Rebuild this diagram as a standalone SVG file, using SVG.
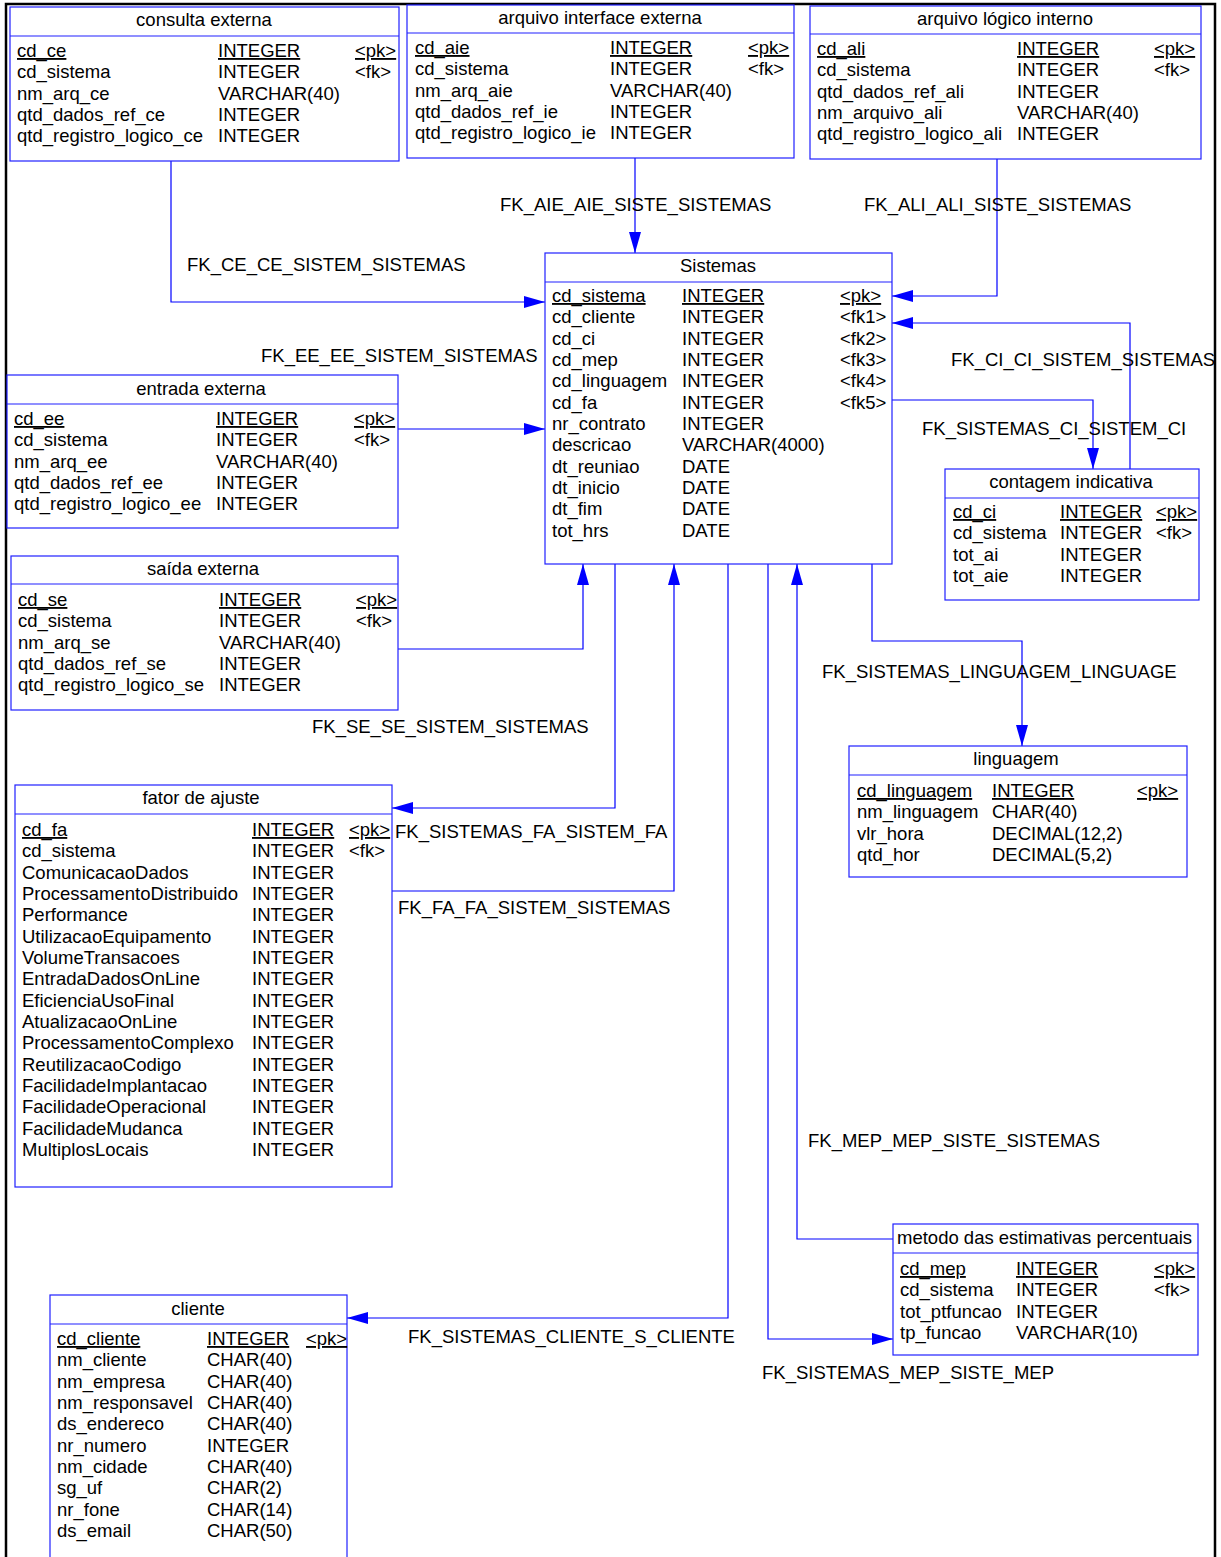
<svg xmlns="http://www.w3.org/2000/svg" width="1221" height="1557" viewBox="0 0 1221 1557">
<style>
text{font-family:"Liberation Sans",Arial,sans-serif;font-size:18.5px;fill:#000}
.ti{text-anchor:middle}
.u{text-decoration:underline}
.box{fill:#fff;stroke:#2020ff;stroke-width:1.2}
.sep{stroke:#2020ff;stroke-width:1.2}
.c{fill:none;stroke:#0000ff;stroke-width:1.2}
</style>
<defs>
<marker id="ah" markerUnits="userSpaceOnUse" markerWidth="21" markerHeight="12" refX="21" refY="6" orient="auto">
<path d="M0,0 L21,6 L0,12 z" fill="#0000ff"/>
</marker>
</defs>
<rect width="1221" height="1557" fill="#fff"/>
<path d="M6,1560 V4 H1215 V1560" fill="none" stroke="#000" stroke-width="2.5"/>

<g id="connectors">
<path class="c" d="M171,161 V302 H545" marker-end="url(#ah)"/>
<path class="c" d="M635,158 V253" marker-end="url(#ah)"/>
<path class="c" d="M997,159 V296 H892" marker-end="url(#ah)"/>
<path class="c" d="M1130,469 V323 H892" marker-end="url(#ah)"/>
<path class="c" d="M892,400 H1093 V469" marker-end="url(#ah)"/>
<path class="c" d="M398,429 H545" marker-end="url(#ah)"/>
<path class="c" d="M398,649 H583 V564" marker-end="url(#ah)"/>
<path class="c" d="M615,564 V808 H392" marker-end="url(#ah)"/>
<path class="c" d="M392,891 H674 V564" marker-end="url(#ah)"/>
<path class="c" d="M728,564 V1318 H347" marker-end="url(#ah)"/>
<path class="c" d="M768,564 V1339 H893" marker-end="url(#ah)"/>
<path class="c" d="M893,1239 H797 V564" marker-end="url(#ah)"/>
<path class="c" d="M872,564 V641 H1022 V746" marker-end="url(#ah)"/>
<text x="187" y="271">FK_CE_CE_SISTEM_SISTEMAS</text>
<text x="500" y="211">FK_AIE_AIE_SISTE_SISTEMAS</text>
<text x="864" y="211">FK_ALI_ALI_SISTE_SISTEMAS</text>
<text x="951" y="366">FK_CI_CI_SISTEM_SISTEMAS</text>
<text x="922" y="435">FK_SISTEMAS_CI_SISTEM_CI</text>
<text x="261" y="362">FK_EE_EE_SISTEM_SISTEMAS</text>
<text x="312" y="733">FK_SE_SE_SISTEM_SISTEMAS</text>
<text x="395" y="838">FK_SISTEMAS_FA_SISTEM_FA</text>
<text x="398" y="914">FK_FA_FA_SISTEM_SISTEMAS</text>
<text x="408" y="1343">FK_SISTEMAS_CLIENTE_S_CLIENTE</text>
<text x="762" y="1379">FK_SISTEMAS_MEP_SISTE_MEP</text>
<text x="808" y="1147">FK_MEP_MEP_SISTE_SISTEMAS</text>
<text x="822" y="678">FK_SISTEMAS_LINGUAGEM_LINGUAGE</text>
</g>

<g id="consulta-externa">
<rect class="box" x="10" y="7" width="389" height="154"/>
<line class="sep" x1="10" y1="36" x2="399" y2="36"/>
<text class="ti" x="204" y="26">consulta externa</text>
<text x="17" y="57" class="u">cd_ce</text><text x="218" y="57" class="u">INTEGER</text><text x="355" y="57" class="u">&lt;pk&gt;</text>
<text x="17" y="78.3">cd_sistema</text><text x="218" y="78.3">INTEGER</text><text x="355" y="78.3">&lt;fk&gt;</text>
<text x="17" y="99.7">nm_arq_ce</text><text x="218" y="99.7">VARCHAR(40)</text>
<text x="17" y="121">qtd_dados_ref_ce</text><text x="218" y="121">INTEGER</text>
<text x="17" y="142.3">qtd_registro_logico_ce</text><text x="218" y="142.3">INTEGER</text>
</g>

<g id="arquivo-interface-externa">
<rect class="box" x="407" y="5" width="387" height="153"/>
<line class="sep" x1="407" y1="33" x2="794" y2="33"/>
<text class="ti" x="600" y="24">arquivo interface externa</text>
<text x="415" y="54" class="u">cd_aie</text><text x="610" y="54" class="u">INTEGER</text><text x="748" y="54" class="u">&lt;pk&gt;</text>
<text x="415" y="75.3">cd_sistema</text><text x="610" y="75.3">INTEGER</text><text x="748" y="75.3">&lt;fk&gt;</text>
<text x="415" y="96.7">nm_arq_aie</text><text x="610" y="96.7">VARCHAR(40)</text>
<text x="415" y="118">qtd_dados_ref_ie</text><text x="610" y="118">INTEGER</text>
<text x="415" y="139.3">qtd_registro_logico_ie</text><text x="610" y="139.3">INTEGER</text>
</g>

<g id="arquivo-logico-interno">
<rect class="box" x="810" y="6" width="391" height="153"/>
<line class="sep" x1="810" y1="34" x2="1201" y2="34"/>
<text class="ti" x="1005" y="25">arquivo lógico interno</text>
<text x="817" y="55" class="u">cd_ali</text><text x="1017" y="55" class="u">INTEGER</text><text x="1154" y="55" class="u">&lt;pk&gt;</text>
<text x="817" y="76.3">cd_sistema</text><text x="1017" y="76.3">INTEGER</text><text x="1154" y="76.3">&lt;fk&gt;</text>
<text x="817" y="97.7">qtd_dados_ref_ali</text><text x="1017" y="97.7">INTEGER</text>
<text x="817" y="119">nm_arquivo_ali</text><text x="1017" y="119">VARCHAR(40)</text>
<text x="817" y="140.3">qtd_registro_logico_ali</text><text x="1017" y="140.3">INTEGER</text>
</g>

<g id="sistemas">
<rect class="box" x="545" y="253" width="347" height="311"/>
<line class="sep" x1="545" y1="282" x2="892" y2="282"/>
<text class="ti" x="718" y="272">Sistemas</text>
<text x="552" y="302" class="u">cd_sistema</text><text x="682" y="302" class="u">INTEGER</text><text x="840" y="302" class="u">&lt;pk&gt;</text>
<text x="552" y="323.3">cd_cliente</text><text x="682" y="323.3">INTEGER</text><text x="840" y="323.3">&lt;fk1&gt;</text>
<text x="552" y="344.7">cd_ci</text><text x="682" y="344.7">INTEGER</text><text x="840" y="344.7">&lt;fk2&gt;</text>
<text x="552" y="366">cd_mep</text><text x="682" y="366">INTEGER</text><text x="840" y="366">&lt;fk3&gt;</text>
<text x="552" y="387.3">cd_linguagem</text><text x="682" y="387.3">INTEGER</text><text x="840" y="387.3">&lt;fk4&gt;</text>
<text x="552" y="408.7">cd_fa</text><text x="682" y="408.7">INTEGER</text><text x="840" y="408.7">&lt;fk5&gt;</text>
<text x="552" y="430">nr_contrato</text><text x="682" y="430">INTEGER</text>
<text x="552" y="451.3">descricao</text><text x="682" y="451.3">VARCHAR(4000)</text>
<text x="552" y="472.7">dt_reuniao</text><text x="682" y="472.7">DATE</text>
<text x="552" y="494">dt_inicio</text><text x="682" y="494">DATE</text>
<text x="552" y="515.3">dt_fim</text><text x="682" y="515.3">DATE</text>
<text x="552" y="536.7">tot_hrs</text><text x="682" y="536.7">DATE</text>
</g>

<g id="entrada-externa">
<rect class="box" x="7" y="375" width="391" height="153"/>
<line class="sep" x1="7" y1="404" x2="398" y2="404"/>
<text class="ti" x="201" y="395">entrada externa</text>
<text x="14" y="425" class="u">cd_ee</text><text x="216" y="425" class="u">INTEGER</text><text x="354" y="425" class="u">&lt;pk&gt;</text>
<text x="14" y="446.3">cd_sistema</text><text x="216" y="446.3">INTEGER</text><text x="354" y="446.3">&lt;fk&gt;</text>
<text x="14" y="467.7">nm_arq_ee</text><text x="216" y="467.7">VARCHAR(40)</text>
<text x="14" y="489">qtd_dados_ref_ee</text><text x="216" y="489">INTEGER</text>
<text x="14" y="510.3">qtd_registro_logico_ee</text><text x="216" y="510.3">INTEGER</text>
</g>

<g id="saida-externa">
<rect class="box" x="11" y="556" width="387" height="154"/>
<line class="sep" x1="11" y1="584" x2="398" y2="584"/>
<text class="ti" x="203" y="575">saída externa</text>
<text x="18" y="606" class="u">cd_se</text><text x="219" y="606" class="u">INTEGER</text><text x="356" y="606" class="u">&lt;pk&gt;</text>
<text x="18" y="627.3">cd_sistema</text><text x="219" y="627.3">INTEGER</text><text x="356" y="627.3">&lt;fk&gt;</text>
<text x="18" y="648.7">nm_arq_se</text><text x="219" y="648.7">VARCHAR(40)</text>
<text x="18" y="670">qtd_dados_ref_se</text><text x="219" y="670">INTEGER</text>
<text x="18" y="691.3">qtd_registro_logico_se</text><text x="219" y="691.3">INTEGER</text>
</g>

<g id="contagem-indicativa">
<rect class="box" x="945" y="469" width="254" height="131"/>
<line class="sep" x1="945" y1="498" x2="1199" y2="498"/>
<text class="ti" x="1071" y="488">contagem indicativa</text>
<text x="953" y="518" class="u">cd_ci</text><text x="1060" y="518" class="u">INTEGER</text><text x="1156" y="518" class="u">&lt;pk&gt;</text>
<text x="953" y="539.3">cd_sistema</text><text x="1060" y="539.3">INTEGER</text><text x="1156" y="539.3">&lt;fk&gt;</text>
<text x="953" y="560.7">tot_ai</text><text x="1060" y="560.7">INTEGER</text>
<text x="953" y="582">tot_aie</text><text x="1060" y="582">INTEGER</text>
</g>

<g id="linguagem">
<rect class="box" x="849" y="746" width="338" height="131"/>
<line class="sep" x1="849" y1="775" x2="1187" y2="775"/>
<text class="ti" x="1016" y="765">linguagem</text>
<text x="857" y="797" class="u">cd_linguagem</text><text x="992" y="797" class="u">INTEGER</text><text x="1137" y="797" class="u">&lt;pk&gt;</text>
<text x="857" y="818.3">nm_linguagem</text><text x="992" y="818.3">CHAR(40)</text>
<text x="857" y="839.7">vlr_hora</text><text x="992" y="839.7">DECIMAL(12,2)</text>
<text x="857" y="861">qtd_hor</text><text x="992" y="861">DECIMAL(5,2)</text>
</g>

<g id="fator-de-ajuste">
<rect class="box" x="15" y="785" width="377" height="402"/>
<line class="sep" x1="15" y1="814" x2="392" y2="814"/>
<text class="ti" x="201" y="804">fator de ajuste</text>
<text x="22" y="836" class="u">cd_fa</text><text x="252" y="836" class="u">INTEGER</text><text x="349" y="836" class="u">&lt;pk&gt;</text>
<text x="22" y="857.3">cd_sistema</text><text x="252" y="857.3">INTEGER</text><text x="349" y="857.3">&lt;fk&gt;</text>
<text x="22" y="878.7">ComunicacaoDados</text><text x="252" y="878.7">INTEGER</text>
<text x="22" y="900">ProcessamentoDistribuido</text><text x="252" y="900">INTEGER</text>
<text x="22" y="921.3">Performance</text><text x="252" y="921.3">INTEGER</text>
<text x="22" y="942.7">UtilizacaoEquipamento</text><text x="252" y="942.7">INTEGER</text>
<text x="22" y="964">VolumeTransacoes</text><text x="252" y="964">INTEGER</text>
<text x="22" y="985.3">EntradaDadosOnLine</text><text x="252" y="985.3">INTEGER</text>
<text x="22" y="1006.7">EficienciaUsoFinal</text><text x="252" y="1006.7">INTEGER</text>
<text x="22" y="1028">AtualizacaoOnLine</text><text x="252" y="1028">INTEGER</text>
<text x="22" y="1049.3">ProcessamentoComplexo</text><text x="252" y="1049.3">INTEGER</text>
<text x="22" y="1070.7">ReutilizacaoCodigo</text><text x="252" y="1070.7">INTEGER</text>
<text x="22" y="1092">FacilidadeImplantacao</text><text x="252" y="1092">INTEGER</text>
<text x="22" y="1113.3">FacilidadeOperacional</text><text x="252" y="1113.3">INTEGER</text>
<text x="22" y="1134.7">FacilidadeMudanca</text><text x="252" y="1134.7">INTEGER</text>
<text x="22" y="1156">MultiplosLocais</text><text x="252" y="1156">INTEGER</text>
</g>

<g id="cliente">
<rect class="box" x="50" y="1295" width="297" height="280"/>
<line class="sep" x1="50" y1="1324" x2="347" y2="1324"/>
<text class="ti" x="198" y="1315">cliente</text>
<text x="57" y="1345" class="u">cd_cliente</text><text x="207" y="1345" class="u">INTEGER</text><text x="306" y="1345" class="u">&lt;pk&gt;</text>
<text x="57" y="1366.3">nm_cliente</text><text x="207" y="1366.3">CHAR(40)</text>
<text x="57" y="1387.7">nm_empresa</text><text x="207" y="1387.7">CHAR(40)</text>
<text x="57" y="1409">nm_responsavel</text><text x="207" y="1409">CHAR(40)</text>
<text x="57" y="1430.3">ds_endereco</text><text x="207" y="1430.3">CHAR(40)</text>
<text x="57" y="1451.7">nr_numero</text><text x="207" y="1451.7">INTEGER</text>
<text x="57" y="1473">nm_cidade</text><text x="207" y="1473">CHAR(40)</text>
<text x="57" y="1494.3">sg_uf</text><text x="207" y="1494.3">CHAR(2)</text>
<text x="57" y="1515.7">nr_fone</text><text x="207" y="1515.7">CHAR(14)</text>
<text x="57" y="1537">ds_email</text><text x="207" y="1537">CHAR(50)</text>
</g>

<g id="metodo-estimativas-percentuais">
<rect class="box" x="893" y="1224" width="305" height="131"/>
<line class="sep" x1="893" y1="1253" x2="1198" y2="1253"/>
<text x="897" y="1244">metodo das estimativas percentuais</text>
<text x="900" y="1275" class="u">cd_mep</text><text x="1016" y="1275" class="u">INTEGER</text><text x="1154" y="1275" class="u">&lt;pk&gt;</text>
<text x="900" y="1296.3">cd_sistema</text><text x="1016" y="1296.3">INTEGER</text><text x="1154" y="1296.3">&lt;fk&gt;</text>
<text x="900" y="1317.7">tot_ptfuncao</text><text x="1016" y="1317.7">INTEGER</text>
<text x="900" y="1339">tp_funcao</text><text x="1016" y="1339">VARCHAR(10)</text>
</g>
</svg>
